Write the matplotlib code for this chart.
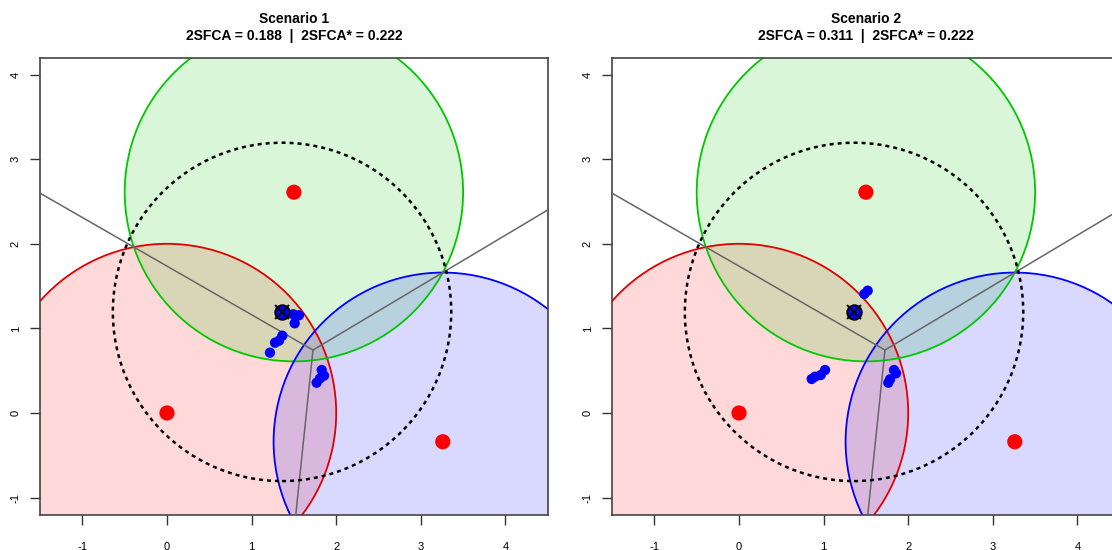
import numpy as np
import matplotlib
matplotlib.use("Agg")
import matplotlib.pyplot as plt
from matplotlib.patches import Circle

plt.rcParams['font.family'] = ['Liberation Sans', 'DejaVu Sans']

# ---- data ----
supply_x = [0.0, 1.50, 3.26]
supply_y = [0.0, 2.61, -0.34]
supply_edge = ['#E00000', '#00C800', '#0000FF']
supply_fill = ['#FF0000', '#00C800', '#0000FF']
catch_radius = 2.0

focus_x = 1.36
focus_y = 1.195

titles = ["Scenario 1\n2SFCA = 0.188  |  2SFCA* = 0.222",
          "Scenario 2\n2SFCA = 0.311  |  2SFCA* = 0.222"]

s1_x = [1.493, 1.560, 1.509, 1.363, 1.324, 1.277, 1.217, 1.856, 1.829, 1.809, 1.769]
s1_y = [1.167, 1.155, 1.060, 0.914, 0.855, 0.831, 0.713, 0.441, 0.508, 0.410, 0.358]

s2_x = [1.521, 1.481, 1.017, 0.966, 0.898, 0.859, 1.832, 1.856, 1.785, 1.765]
s2_y = [1.446, 1.407, 0.508, 0.449, 0.429, 0.402, 0.508, 0.469, 0.398, 0.358]

scen_x = [s1_x, s2_x]
scen_y = [s1_y, s2_y]

xticks = [-1, 0, 1, 2, 3, 4]
yticks = [-1, 0, 1, 2, 3, 4]

# ---- figure ----
fig = plt.figure(figsize=(11.12, 5.5), dpi=100)
W, H = 1112, 550
ax_w = 507.6 / W
ax_h = 456.8 / H
ax_b = (550 - 514.5) / H
lefts = [40.1 / W, 612.1 / W]


def voronoi_edges(px, py):
    P = np.column_stack([px, py])
    A, B, C = P
    M = np.array([[2 * (B[0] - A[0]), 2 * (B[1] - A[1])],
                  [2 * (C[0] - A[0]), 2 * (C[1] - A[1])]])
    rhs = np.array([B @ B - A @ A, C @ C - A @ A])
    V = np.linalg.solve(M, rhs)
    edges = []
    for i, j, k in [(0, 1, 2), (1, 2, 0), (0, 2, 1)]:
        d = P[j] - P[i]
        perp = np.array([-d[1], d[0]])
        perp /= np.linalg.norm(perp)
        mid = (P[i] + P[j]) / 2
        if np.dot(perp, P[k] - mid) > 0:
            perp = -perp
        edges.append((V, V + perp * 20))
    return edges


for n in range(2):
    ax = fig.add_axes([lefts[n], ax_b, ax_w, ax_h])
    ax.set_xlim(-1.5, 4.5)
    ax.set_ylim(-1.2, 4.2)

    for cx, cy, col in zip(supply_x, supply_y, supply_fill):
        ax.add_patch(Circle((cx, cy), catch_radius, facecolor=col, alpha=0.15,
                            edgecolor='none', zorder=1))
    for cx, cy, col in zip(supply_x, supply_y, supply_edge):
        ax.add_patch(Circle((cx, cy), catch_radius, facecolor='none',
                            edgecolor=col, lw=1.3, zorder=2))

    for p0, p1 in voronoi_edges(supply_x, supply_y):
        ax.plot([p0[0], p1[0]], [p0[1], p1[1]], color='#666666', lw=1.1, zorder=3)

    ax.add_patch(Circle((focus_x, focus_y), catch_radius, facecolor='none',
                        edgecolor='black', lw=1.8, linestyle=(0, (1.6, 1.6)), zorder=4))

    ax.scatter(scen_x[n], scen_y[n], s=55, color='#0000FF', edgecolors='none', zorder=5)
    ax.scatter(supply_x, supply_y, s=120, color='#FF0000', edgecolors='none', zorder=5)
    ax.plot([focus_x], [focus_y], marker='o', ms=10.5, mfc='#0000FF', mec='black', mew=1.3, zorder=6)
    ax.plot([focus_x], [focus_y], marker='x', ms=10, mec='black', mew=1.4, zorder=7)

    ax.set_xticks(xticks)
    ax.set_yticks(yticks)
    ax.set_xticklabels([str(t) for t in xticks])
    ax.set_yticklabels([str(t) for t in yticks], rotation=90, va='center')
    ax.tick_params(axis='x', length=7.5, width=1, pad=12, labelsize=8, color='#333333')
    ax.tick_params(axis='y', length=7.5, width=1, pad=6.5, labelsize=8, color='#333333')
    for sp in ax.spines.values():
        sp.set_color('#444444')
        sp.set_linewidth(1.2)
    ax.set_title(titles[n], fontsize=10, fontweight='bold', pad=13, linespacing=1.25)

fig.savefig('out.png', dpi=100)
